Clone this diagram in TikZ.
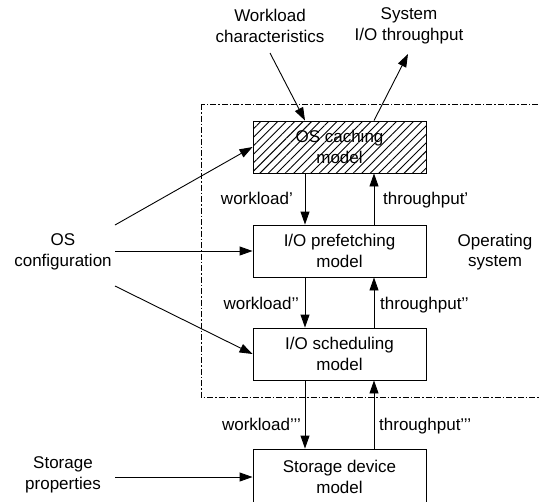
\documentclass[tikz,border=0pt]{standalone}
\usepackage{fontspec}
\setmainfont{Liberation Sans}
\usetikzlibrary{arrows.meta,patterns.meta,calc}
\begin{document}
\begin{tikzpicture}[x=1pt,y=-1pt,
  lbl/.style={font=\fontsize{17}{20.5}\selectfont, align=center, inner sep=0pt},
  box/.style={draw, line width=0.9pt, minimum width=173pt, minimum height=52pt, inner sep=0pt, lbl},
  arr/.style={line width=0.9pt, -{Triangle[length=13pt,width=9pt]}},
  osbound/.style={line width=0.7pt, dash pattern=on 6pt off 2pt on 1.5pt off 2pt},
  ]
\useasboundingbox (0,0) rectangle (540,501);
% operating system boundary
\draw[osbound] (201,104) rectangle (548,397);
% boxes
\node[box, pattern={Lines[angle=45,distance=6pt,line width=0.9pt]}] (cache) at (339.5,147) {OS caching\\model};
\node[box] (pre) at (339.5,251) {I/O prefetching\\model};
\node[box] (sch) at (339.5,354) {I/O scheduling\\model};
\node[box, minimum height=56pt] (sto) at (339.5,477) {Storage device\\model};
% outside labels
\node[lbl] (wc) at (270,26) {Workload\\characteristics};
\node[lbl] (sys) at (409,26) {System\\I/O throughput};
\node[lbl] (os) at (63,252) {OS\\configuration};
\node[lbl] (sp) at (63,475) {Storage\\properties};
\node[lbl] (opsys) at (495,252) {Operating\\system};
% columns
\coordinate (dcol) at (305,0);
\coordinate (ucol) at (374,0);
% free ends
\coordinate (wcS) at (270,53);
\coordinate (sysS) at (408,54);
\coordinate (osA) at (115,225);
\coordinate (osB) at (115,251);
\coordinate (osC) at (115,286);
\coordinate (spE) at (115,477);
% connectors
\draw[arr] (wcS) -- (cache.north -| dcol);
\draw[arr] (cache.north -| ucol) -- (sysS);
\draw[arr] (osA) -- (cache.west);
\draw[arr] (osB) -- (pre.west);
\draw[arr] (osC) -- (sch.west);
\draw[arr] (spE) -- (sto.west);
\draw[arr] (cache.south -| dcol) -- (pre.north -| dcol);
\draw[arr] (pre.north -| ucol) -- (cache.south -| ucol);
\draw[arr] (pre.south -| dcol) -- (sch.north -| dcol);
\draw[arr] (sch.north -| ucol) -- (pre.south -| ucol);
\draw[arr] (sch.south -| dcol) -- (sto.north -| dcol);
\draw[arr] (sto.north -| ucol) -- (sch.south -| ucol);
% flow labels
\node[lbl, anchor=base east] (w1) at (293,204) {workload’};
\node[lbl, anchor=base west] (t1) at (383,204) {throughput’};
\node[lbl, anchor=base east] (w2) at (299,309) {workload’’};
\node[lbl, anchor=base west] (t2) at (380,309) {throughput’’};
\node[lbl, anchor=base east] (w3) at (301,430) {workload’’’};
\node[lbl, anchor=base west] (t3) at (379,430) {throughput’’’};
\end{tikzpicture}
\end{document}
